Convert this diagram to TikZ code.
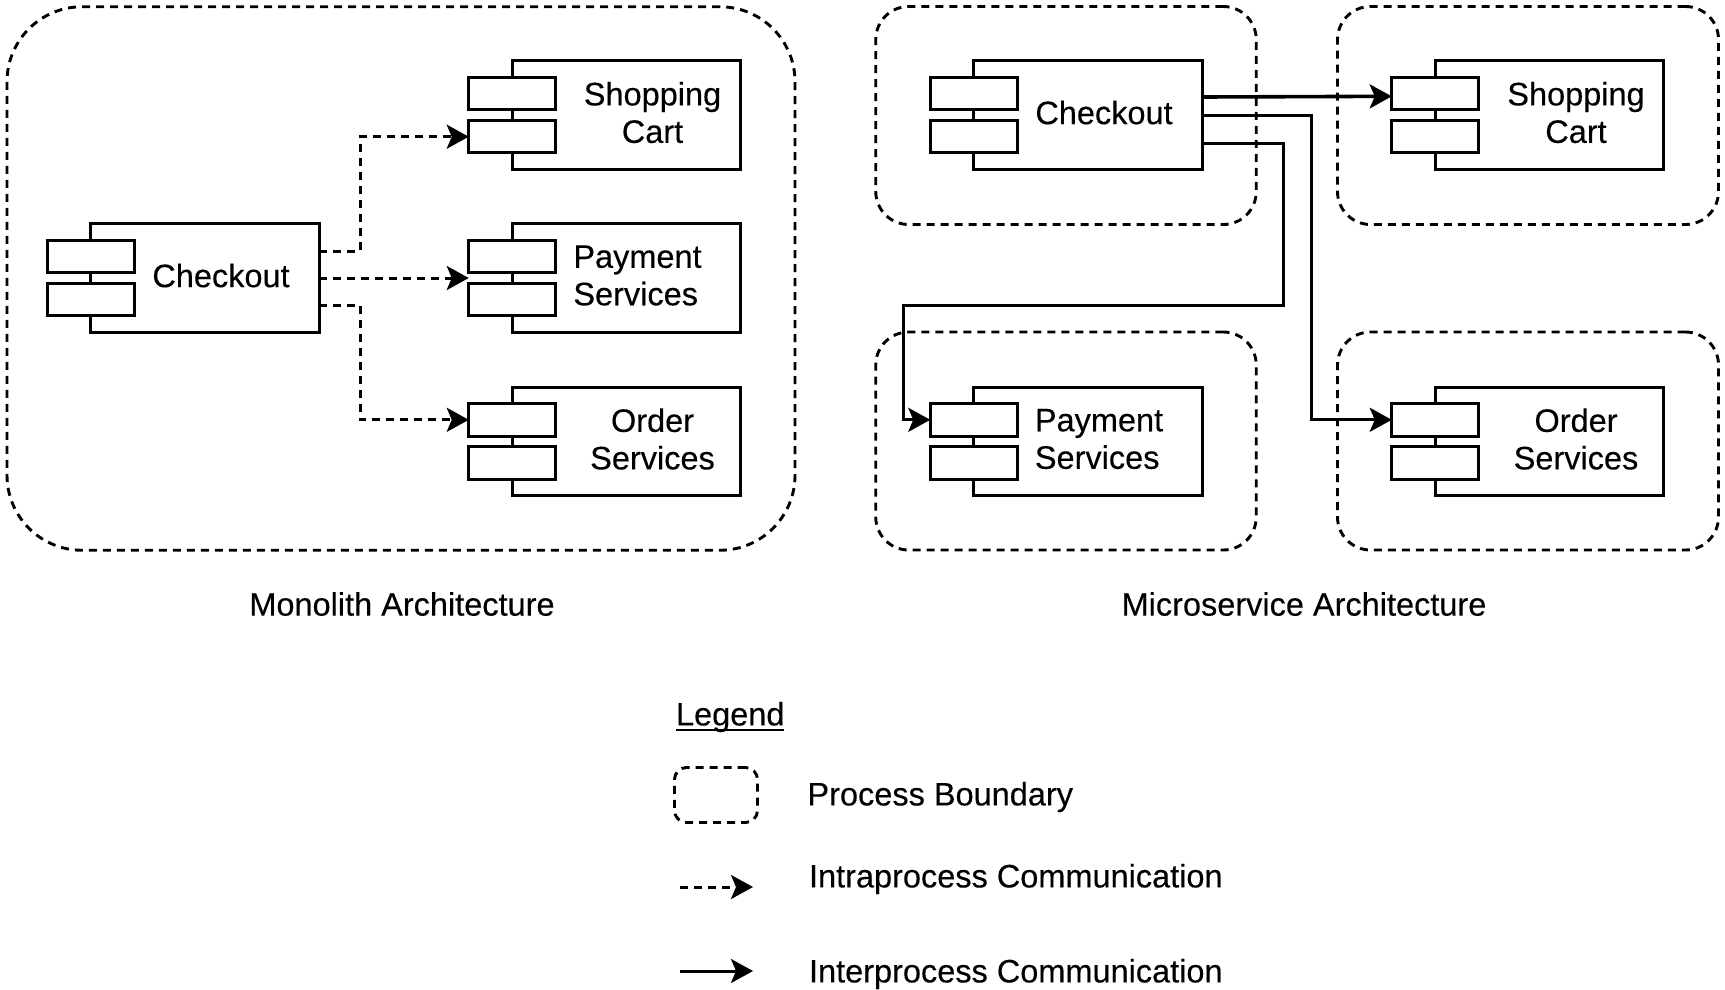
\documentclass[tikz,border=0pt]{standalone}
\usepackage{fontspec}
\setmainfont{Liberation Sans}[FakeBold=0.25]
\newfontfamily\lblfont{Liberation Sans}[AutoFakeBold=0.25]
\usetikzlibrary{arrows.meta}
\tikzset{
  x=1pt,y=-1pt,
  lbl/.style={inner sep=0pt,outer sep=0pt,font=\fontsize{32.5}{37.5}\selectfont\lblfont\bfseries},
  boundary/.style={draw=black,line width=2.9pt,dash pattern=on 8pt off 6pt,rounded corners=#1,inner sep=0pt,outer sep=0pt},
  bodybox/.style={draw=black,line width=3pt,fill=white,minimum width=228.5pt,minimum height=108.5pt,inner sep=0pt,outer sep=0pt},
  portbox/.style={draw=black,line width=3pt,fill=white,minimum width=87pt,minimum height=32.5pt,inner sep=0pt,outer sep=0pt},
  tip/.style={-{Stealth[length=22pt,width=24pt,inset=5pt]}},
  intra/.style={tip,draw=black,line width=3pt,dash pattern=on 8pt off 6pt},
  inter/.style={tip,draw=black,line width=3pt},
}
% name, body centre x, body centre y, text, text offset, alignment
\newcommand{\compo}[6]{%
  \node[bodybox] (#1) at (#2,#3) {};
  \node[portbox] (#1-p1) at ([yshift=21.7pt]#1.west) {};
  \node[portbox] (#1-p2) at ([yshift=-21.7pt]#1.west) {};
  \node[lbl,align=#6] (#1-t) at ([xshift=#5pt,yshift=2.5pt]#1.center) {#4};
}
\begin{document}
\begin{tikzpicture}
\useasboundingbox (0,0) rectangle (1725,989);
% process boundaries
\node[boundary=75pt,minimum width=788pt,minimum height=543.5pt] (mono) at (401,278.5) {};
\node[boundary=33pt,minimum width=380.5pt,minimum height=218pt] (b1) at (1066,115.5) {};
\node[boundary=33pt,minimum width=381pt,minimum height=218pt] (b2) at (1528,115.5) {};
\node[boundary=33pt,minimum width=380.5pt,minimum height=218pt] (b3) at (1066,441) {};
\node[boundary=33pt,minimum width=381pt,minimum height=218pt] (b4) at (1528,441) {};
% monolith components
\compo{mc}{205}{278}{Checkout}{16}{center}
\compo{ms}{626.5}{115}{Shopping\\Cart}{26}{center}
\compo{mp}{626.5}{278}{Payment\\Services}{11}{left}
\compo{mo}{626.5}{441.5}{Order\\Services}{26}{center}
% microservice components
\compo{sc}{1088}{115}{Checkout}{16}{center}
\compo{ss}{1549.5}{115}{Shopping\\Cart}{26.5}{center}
\compo{sp}{1088}{441.5}{Payment\\Services}{11}{left}
\compo{so}{1549.5}{441.5}{Order\\Services}{26.5}{center}
% monolith connectors
\draw[intra] ([yshift=27pt]mc.east) -- ++(41,0) |- (ms-p2.west);
\draw[intra] (mc.east) -- (mp.west -| mp-p1.west);
\draw[intra] ([yshift=-27pt]mc.east) -- ++(41,0) |- (mo-p1.west);
% microservice connectors
\coordinate (bus) at (903,305.5);
\draw[inter,line width=3.6pt] ([yshift=18pt]sc.east) -- ([yshift=-3pt]ss-p1.west);
\draw[inter] (sc.east) -- ++(109,0) |- (so-p1.west);
\draw[inter] ([yshift=-28pt]sc.east) -- ++(81.5,0) |- (bus) |- (sp-p1.west);
% captions
\node[lbl] (cap1) at (402,604) {Monolith Architecture};
\node[lbl] (cap2) at (1304,604) {Microservice Architecture};
% legend
\node[lbl,anchor=west] (leg) at (676,717) {Legend};
\draw[line width=2.4pt] ([yshift=2pt]leg.south west) -- ([yshift=2pt]leg.south east);
\node[boundary=12pt,minimum width=83pt,minimum height=55pt] (legbox) at (716,795) {};
\node[lbl,anchor=west] (legt1) at (807.5,797) {Process Boundary};
\node[lbl,anchor=west] (legt2) at (809,879) {Intraprocess Communication};
\node[lbl,anchor=west] (legt3) at (809,974) {Interprocess Communication};
\coordinate (a1) at (680,887);
\coordinate (a2) at (753,887);
\coordinate (a3) at (680,971);
\coordinate (a4) at (753,971);
\draw[intra] (a1) -- (a2);
\draw[inter] (a3) -- (a4);
\end{tikzpicture}
\end{document}
